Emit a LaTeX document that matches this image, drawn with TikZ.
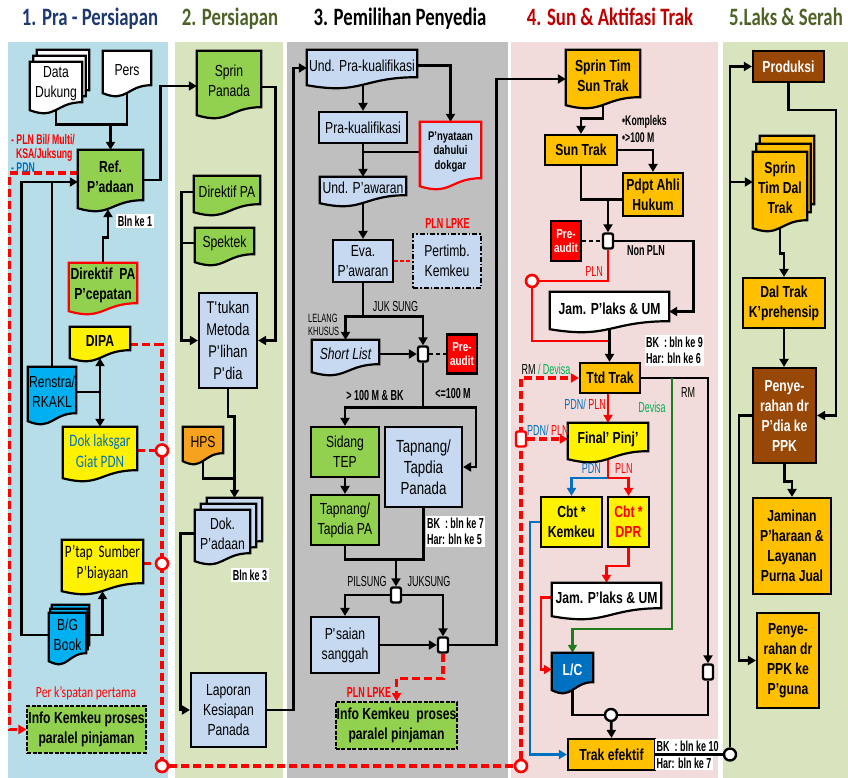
\documentclass[tikz,border=0pt]{standalone}
\usepackage{fontspec}
\setmainfont{Liberation Sans}[FakeStretch=0.76]
\newfontfamily\cnd{Liberation Sans}[FakeStretch=0.62]
\newfontfamily\ttl{Carlito}[FakeStretch=0.75]
\usetikzlibrary{arrows.meta,positioning,calc}

\definecolor{pnlblue}{HTML}{B7DEE8}
\definecolor{pnlgreen}{HTML}{D7E4BD}
\definecolor{pnlgray}{HTML}{BFBFBF}
\definecolor{pnlpink}{HTML}{F2DCDB}
\definecolor{lgreen}{HTML}{92D050}
\definecolor{lblue}{HTML}{C6D9F1}
\definecolor{cyanb}{HTML}{00B0F0}
\definecolor{orng}{HTML}{FFC000}
\definecolor{hpsorng}{HTML}{F7A21E}
\definecolor{brwn}{HTML}{974706}
\definecolor{dblue}{HTML}{0070C0}
\definecolor{dgreen}{HTML}{1E7B1E}
\definecolor{lgtext}{HTML}{00B050}
\definecolor{navy}{HTML}{1F3A70}
\definecolor{olive}{HTML}{4F6228}
\definecolor{dred}{HTML}{C00000}

\pgfdeclarelayer{panel}
\pgfdeclarelayer{wires}
\pgfdeclarelayer{background}
\pgfsetlayers{panel,wires,background,main}

\newcommand{\fmain}{\fontsize{16}{20}\selectfont}
\newcommand{\fsmall}{\cnd\fontsize{14.5}{16.5}\selectfont}

\tikzset{
  sz/.style 2 args={minimum width=#1pt,minimum height=#2pt},
  base/.style={align=center,inner sep=1pt,font=\fmain},
  bold/.style={font=\fmain\bfseries},
  doc/.style={base},
  proc/.style={base,draw,line width=2.2pt,fill=lblue},
  audit/.style={proc,fill=red,text=white,font=\fontsize{13}{14.5}\selectfont\bfseries},
  infobox/.style={base,bold,draw,line width=1.8pt,dash pattern=on 4pt off 1.5pt,fill=lgreen},
  jn/.style={draw,line width=2.4pt,fill=white,rounded corners=2pt,minimum width=10pt,minimum height=15pt,inner sep=0pt},
  hub/.style={circle,draw,line width=2.4pt,fill=white,minimum size=12pt,inner sep=0pt},
  rhub/.style={hub,draw=red,line width=2.6pt,minimum size=12pt},
  tag/.style={fill=white,inner sep=1.5pt,align=left,font=\fsmall\bfseries},
  note/.style={inner sep=0pt,align=left,font=\fsmall},
  bnote/.style={note,font=\fsmall\bfseries},
  ttlnode/.style={anchor=base,font=\ttl\bfseries\fontsize{25}{28}\selectfont},
  wire/.style={line width=2.8pt},
  arr/.style={wire,->},
  rdash/.style={red,line width=3.4pt,dash pattern=on 8pt off 4pt},
  rline/.style={red,line width=2.4pt},
  bline/.style={dblue,line width=2.4pt},
  gline/.style={dgreen,line width=2.4pt},
  kdash/.style={line width=2.4pt,dash pattern=on 4pt off 3pt}
}

% wavy document outline round a node, shifted by (#2,#3)
\newcommand{\wavepath}[3]{($(#1.north west)+(#2,#3)$) -- ($(#1.north east)+(#2,#3)$) -- ($(#1.south east)+(#2,#3-4)$)
  .. controls ($(#1.south)+(#2,#3-4)$) and ($(#1.south)+(#2,#3+14)$) .. ($(#1.south west)+(#2,#3+4)$) -- cycle}
\newcommand{\docshape}[3][black]{%
  \begin{pgfonlayer}{background}
    \draw[line width=2.2pt,draw=#1,fill=#3] \wavepath{#2}{0}{0};
  \end{pgfonlayer}}
\newcommand{\stackshape}[4]{%
  \begin{pgfonlayer}{background}
    \draw[line width=2.2pt,fill=#2] \wavepath{#1}{2*#3}{2*#4};
    \draw[line width=2.2pt,fill=#2] \wavepath{#1}{#3}{#4};
    \draw[line width=2.2pt,fill=#2] \wavepath{#1}{0}{0};
  \end{pgfonlayer}}

\begin{document}
\begin{tikzpicture}[x=1pt,y=-1pt,>={Triangle[length=8pt,width=9pt]}]
\useasboundingbox (0,0) rectangle (848,778);

% panels and titles
\begin{pgfonlayer}{panel}
  \fill[pnlblue] (8,42) rectangle (168,778);
  \fill[pnlgreen] (175,42) rectangle (283,778);
  \fill[pnlgray] (287,42) rectangle (508,778);
  \fill[pnlpink] (511,42) rectangle (718,778);
  \fill[pnlgreen] (723,42) rectangle (848,778);
\end{pgfonlayer}
\node[ttlnode,text=navy] (t1) at (90,26) {1. Pra - Persiapan};
\node[ttlnode,text=olive] (t2) at (230,26) {2. Persiapan};
\node[ttlnode] (t3) at (400,26) {3. Pemilihan Penyedia};
\node[ttlnode,text=dred] (t4) at (610,26) {4. Sun \& Aktifasi Trak};
\node[ttlnode,text=olive] (t5) at (786,26) {5.Laks \& Serah};

% 1. Pra - Persiapan
\node[doc,sz={52}{44}] (dat) at (56,84) {Data\\Dukung};
\node[doc,sz={48}{38}] (pers) at (127,70) {Pers};
\node[doc,bold,sz={65}{54}] (ref) at (110.5,177) {Ref.\\P’adaan};
\node[doc,bold,sz={68}{44}] (dpa) at (103,285) {Direktif\ \ PA\\P’cepatan};
\node[doc,bold,sz={60}{27}] (dipa) at (100,340.5) {DIPA};
\node[doc,sz={48}{50}] (ren) at (52,392) {Renstra/\\RKAKL};
\node[doc,sz={74}{47},font=\ttl\fontsize{17.5}{21}\selectfont,text=dblue] (dok) at (100,450.5) {Dok laksgar\\Giat PDN};
\node[doc,sz={81}{47},font=\ttl\fontsize{17.5}{21}\selectfont] (ptap) at (102.5,563.5) {P’tap\ \ Sumber\\P’biayaan};
\node[doc,sz={37}{44}] (bg) at (67.5,635) {B/G\\Book};
\node[infobox,sz={115}{47}] (info1) at (86.5,729.5) {Info Kemkeu proses\\paralel pinjaman};
\node[rhub] (rc1) at (162,450.5) {};
\node[rhub] (rc2) at (162,563.5) {};
\node[rhub] (rc3) at (162,766) {};
\node[bnote,font=\cnd\bfseries\fontsize{14}{14}\selectfont,anchor=north west] (cat) at (11,134)
  {\textcolor{red}{- PLN Bil/ Multi/}\\\textcolor{red}{\ \ KSA/Juksung}\\\textcolor{dblue}{- PDN}};
\node[tag] (bln1) at (135,221) {Bln ke 1};
\node[note,font=\ttl\fontsize{15.5}{18}\selectfont,text=red] (kesp) at (86,693) {Per k’spatan pertama};
\stackshape{dat}{white}{3.5}{-6}
\docshape{pers}{white}
\docshape{ref}{lgreen}
\docshape[red]{dpa}{lgreen}
\docshape{dipa}{yellow}
\docshape{ren}{cyanb}
\docshape{dok}{yellow}
\docshape{ptap}{yellow}
\stackshape{bg}{cyanb}{1.5}{-4}

% 2. Persiapan
\node[doc,sz={64}{60}] (sprin) at (229,81) {Sprin\\Panada};
\node[doc,sz={66}{32}] (dirpa) at (227,192) {Direktif PA};
\node[doc,sz={59}{30}] (spek) at (224.5,243) {Spektek};
\node[proc,sz={58}{95},font=\fontsize{17}{22}\selectfont] (ttk) at (228,340.5) {T\textquotesingle tukan\\Metoda\\P\textquotesingle lihan\\P\textquotesingle dia};
\node[doc,sz={40}{30}] (hps) at (203,442) {HPS};
\node[doc,sz={55}{47}] (dokp) at (222.5,533.5) {Dok.\\P’adaan};
\node[tag] (bln3) at (250,575) {Bln ke 3};
\node[proc,sz={75}{74}] (lap) at (228.5,710) {Laporan\\Kesiapan\\Panada};
\docshape{sprin}{lgreen}
\docshape{dirpa}{lgreen}
\docshape{spek}{lgreen}
\docshape{hps}{hpsorng}
\stackshape{dokp}{lblue}{6}{-6}

% 3. Pemilihan Penyedia
\node[doc,sz={110}{31}] (upk) at (362,65.5) {Und. Pra-kualifikasi};
\node[proc,sz={88}{31}] (pk) at (363,127.5) {Pra-kualifikasi};
\node[doc,sz={61}{60},font=\fontsize{12.5}{14.5}\selectfont\bfseries] (pny) at (450.5,152) {P’nyataan\\dahului\\dokgar};
\node[doc,sz={86}{22}] (upw) at (363,188) {Und. P’awaran};
\node[proc,sz={60}{42}] (eva) at (363,261) {Eva.\\P’awaran};
\node[bnote,text=red] (lpke1) at (447.5,224) {PLN LPKE};
\node[proc,sz={68}{54},dash pattern=on 5pt off 2pt on 1.5pt off 2pt] (ptb) at (447,261) {Pertimb.\\Kemkeu};
\node[note] (juk1) at (395.5,307) {JUK SUNG};
\node[note,font=\cnd\fontsize{12}{13}\selectfont,anchor=west] (lelang) at (308,324.5) {LELANG\\KHUSUS};
\node[doc,sz={67}{28},font=\fmain\itshape] (sl) at (345.5,354) {Short List};
\node[jn] (j1) at (423,354) {};
\node[audit,sz={30}{39}] (pa1) at (462,354) {Pre-\\audit};
\node[bnote] (gt) at (375,396) {> 100 M \& BK};
\node[bnote] (le) at (453,394) {<=100 M};
\node[proc,fill=lgreen,sz={68}{50}] (tep) at (345,452) {Sidang\\TEP};
\node[proc,sz={77}{80},font=\fontsize{17.5}{21}\selectfont] (tpp) at (423.5,467) {Tapnang/\\Tapdia\\Panada};
\node[proc,fill=lgreen,sz={68}{50}] (tpa) at (345,520) {Tapnang/\\Tapdia PA};
\node[tag] (bk7) at (455.5,531.5) {BK\ \ : bln ke 7\\Har: bln ke 5};
\node[note] (pil) at (367,582) {PILSUNG};
\node[note] (juk2) at (429,582) {JUKSUNG};
\node[jn] (j2) at (396,595) {};
\node[proc,sz={68}{56}] (ps) at (345,645) {P\textquotesingle saian\\sanggah};
\node[jn] (j3) at (443,645) {};
\node[bnote,text=red] (lpke2) at (369,693) {PLN LPKE};
\node[infobox,sz={117}{47}] (info2) at (396.5,725.5) {Info Kemkeu\ \ proses\\paralel pinjaman};
\docshape{upk}{lblue}
\docshape[red]{pny}{lblue}
\docshape{upw}{lblue}
\docshape{sl}{lblue}

% 4. Sun & Aktifasi Trak
\node[doc,bold,sz={74}{51}] (stst) at (603,75.5) {Sprin Tim\\Sun Trak};
\node[proc,bold,fill=orng,sz={72}{30}] (st) at (581,150) {Sun Trak};
\node[bnote,font=\cnd\bfseries\fontsize{14}{17.5}\selectfont,anchor=north west] (komp) at (622,115) {•Kompleks\\•>100 M};
\node[proc,bold,fill=orng,sz={60}{43}] (pah) at (653,194.5) {Pdpt Ahli\\Hukum};
\node[jn] (j4) at (608,241) {};
\node[audit,sz={30}{40}] (pa2) at (566,241) {Pre-\\audit};
\node[bnote] (npln) at (646,251) {Non PLN};
\node[note,text=red] (pln1) at (594,272) {PLN};
\node[rhub] (rc5) at (532,281) {};
\node[doc,bold,sz={119}{33}] (jam1) at (609.5,308.5) {Jam. P’laks \& UM};
\node[tag] (bk9) at (674.5,350.5) {BK\ \ : bln ke 9\\Har: bln ke 6};
\node[note] (rmdv) at (546,369) {RM \textcolor{lgtext}{/ Devisa}};
\node[proc,bold,fill=orng,sz={60}{30}] (ttd) at (610,378) {Ttd Trak};
\node[note] (rm) at (688,393) {RM};
\node[note,text=lgtext] (dvs) at (652,407) {Devisa};
\node[note,anchor=east] (pp1) at (606,404) {\textcolor{dblue}{PDN/} \textcolor{red}{PLN}};
\node[note,anchor=west] (pp2) at (527,430) {\textcolor{dblue}{PDN/} \textcolor{red}{PLN}};
\node[jn,draw=red] (j5) at (521,439) {};
\node[doc,bold,sz={80}{32}] (fin) at (608,439) {Final’ Pinj’};
\node[note,anchor=east,text=dblue] (pdn) at (601,469) {PDN};
\node[note,anchor=west,text=red] (pln2) at (615,469) {PLN};
\node[proc,bold,fill=yellow,sz={61}{50}] (cbk) at (571.5,522) {Cbt *\\Kemkeu};
\node[proc,bold,fill=yellow,text=red,sz={41}{50}] (cbd) at (628.5,522) {Cbt *\\DPR};
\node[doc,bold,sz={109}{29}] (jam2) at (606.5,597.5) {Jam. P’laks \& UM};
\node[doc,bold,text=white,sz={41}{33}] (lc) at (572.5,669.5) {L/C};
\node[jn] (j6) at (708,672) {};
\node[hub] (hb1) at (611,715) {};
\node[proc,bold,fill=orng,sz={87}{31}] (te) at (611.5,754.5) {Trak efektif};
\node[hub] (hb2) at (730,754.5) {};
\node[tag,anchor=south west] (bk10) at (655,753) {BK\ \ : bln ke 10};
\node[tag,anchor=north west] (har7) at (655,756) {Har: bln ke 7};
\node[rhub] (rc4) at (521,766) {};
\docshape{stst}{orng}
\docshape{jam1}{white}
\docshape{fin}{yellow}
\docshape{jam2}{white}
\docshape{lc}{dblue}

% 5. Laks & Serah
\node[proc,bold,fill=brwn,text=white,sz={71}{31}] (prod) at (788.5,66.5) {Produksi};
\node[doc,bold,sz={54}{72}] (sptd) at (780,188) {Sprin\\Tim Dal\\Trak};
\node[proc,bold,fill=orng,sz={82}{50}] (dtk) at (784,303) {Dal Trak\\K’prehensip};
\node[proc,bold,fill=brwn,text=white,sz={63}{95}] (pyp) at (784.5,415.5) {Penye-\\rahan dr\\P’dia ke\\PPK};
\node[proc,bold,fill=orng,sz={78}{96}] (jam) at (792,546) {Jaminan\\P’haraan \&\\Layanan\\Purna Jual};
\node[proc,bold,fill=orng,sz={62}{95}] (pyg) at (788,660.5) {Penye-\\rahan dr\\PPK ke\\P’guna};
\stackshape{sptd}{orng}{3.5}{-8}

% connectors
\begin{pgfonlayer}{wires}
  % 1
  \coordinate (m1) at ($(ref.north)+(0,-25)$);
  \draw[wire] (dat.south) |- (m1);
  \draw[wire] (pers.south) |- (m1);
  \draw[arr] (m1) -- (ref.north);
  \coordinate (refin) at ([yshift=-5pt]ref.west);
  \draw[arr] (bg.west) -| ($(refin)+(-56,0)$) -- (refin);
  \draw[wire] (ren.north) -- (ren.north |- refin);
  \draw[arr] (dpa.north) -- ++(0,-25) -| ($(ref.south)+(-2.5,5)$);
  \draw[wire] (ren.east) -- (ren.east -| dipa.south);
  \draw[wire,<->] ($(dipa.south)+(0,4)$) -- (dok.north);
  \draw[arr] (bg.east) -| ($(ptap.south)+(0,4)$);
  \draw[arr] ([yshift=-3pt]ref.east) -- ++(17,0) |- ([yshift=-5pt]sprin.west);
  \draw[rdash,->] ([yshift=4pt]ref.west) -| ($(info1.west)+(-17,0)$) -- (info1.west);
  \draw[rdash] ([yshift=-4pt]dipa.east) -| (rc3);
  \draw[rdash] (dok.east) -- (rc1);
  \draw[rdash] (ptap.east) -- (rc2);
  \draw[rdash] (rc3) -- (rc4);
  \draw[rdash,->] (rc4) |- (ttd.west);
  \draw[rdash,->] (j5) -- (fin.west);
  % 2
  \draw[arr] ([yshift=-6pt]sprin.east) -- ++(14,0) |- (ttk.east);
  \coordinate (c2l) at ($(dirpa.west)+(-12,0)$);
  \draw[arr] (dirpa.west) -- (c2l) |- (ttk.west);
  \draw[wire] (spek.west) -- (spek.west -| c2l);
  \draw[arr] (ttk.south) -- ++(0,27) -| ($(dokp.north)+(12,-12)$);
  \draw[wire] (hps.south) |- ($(dokp.north)+(12,-31)$);
  \draw[arr] (dokp.west) -- ++(-14,0) |- (lap.west);
  \draw[arr] (lap.east) -- ++(26,0) |- ([yshift=-2.5pt]upk.west);
  % 3
  \draw[arr] (upk.south -| pk.north) -- (pk.north);
  \draw[arr] (upk.east) -| (pny.north);
  \draw[arr] (pk.south) -- (pk.south |- upw.north);
  \draw[wire] (pny.west) -- (pny.west -| pk.south);
  \draw[arr] (upw.south -| eva.north) -- (eva.north);
  \draw[red,line width=1.8pt,dash pattern=on 4pt off 2pt] (eva.east) -- (ptb.west);
  \coordinate (sp1) at ($(eva.south)+(0,33)$);
  \draw[arr] (eva.south) -- (sp1) -| (sl.north);
  \draw[arr] (sp1) -| (j1.north);
  \draw[arr] (sl.east) -- (j1.west);
  \draw[kdash] (j1.east) -- (pa1.west);
  \coordinate (sp2) at ($(j1.south)+(0,45)$);
  \draw[arr] (j1.south) -- (sp2) -| (tep.north);
  \draw[arr] (sp2) -- ++(53,0) |- (tpp.east);
  \draw[arr] (tep.south) -- (tpa.north);
  \coordinate (m3) at ($(tpa.south)+(0,13)$);
  \draw[wire] (tpa.south) -- (m3) -| (tpp.south);
  \draw[arr] (m3 -| j2.north) -- (j2.north);
  \draw[arr] (j2.west) -| (ps.north);
  \draw[arr] (j2.east) -| (j3.north);
  \draw[arr] (ps.east) -- (j3.west);
  \draw[arr] (j3.east) -- ++(47,0) |- ([yshift=-3.5pt]stst.west);
  \draw[rdash,->] (j3.south) -- ++(0,25) -| (info2.north);
  % 4
  \draw[arr] (stst.south) -- ++(0,17) -| (st.north);
  \draw[arr] (st.east) -| (pah.north);
  \path ($(pah.west)+(0,5)$) coordinate (pw);
  \coordinate (m4) at (pw -| j4.north);
  \draw[wire] (st.south) |- (m4);
  \draw[wire] (pw) -- (m4);
  \draw[arr] (m4) -- (j4.north);
  \draw[kdash] (pa2.east) -- (j4.west);
  \draw[arr] (j4.east) -- ++(79,0) |- ([yshift=-3pt]jam1.east);
  \coordinate (m5) at ($(ttd.north)+(0,-21)$);
  \draw[rline] (j4.south) |- (rc5);
  \draw[rline] (rc5) |- (m5);
  \draw[arr] (jam1.south) -- (jam1.south |- ttd.north);
  \draw[arr] (ttd.east) -| (j6.north);
  \coordinate (g0) at ($(ttd.east)+(31,0)$);
  \draw[gline,->] (g0) -- ++(0,251) -| (lc.north);
  \draw[rline,->] (ttd.south -| fin.north) -- (fin.north);
  \coordinate (sp4) at ($(fin.south)+(0,23)$);
  \draw[rline,->] (fin.south) -- (sp4) -| (cbd.north);
  \draw[bline,->] (sp4) -| (cbk.north);
  \draw[rline,->] (cbd.south) -- ++(0,18) -| (jam2.north);
  \draw[rline,->] (jam2.west) -- ++(-11,0) |- (lc.west);
  \draw[bline,->] (cbk.west) -- ++(-10,0) |- (te.west);
  \draw[wire] (lc.south) |- (hb1);
  \draw[wire] (hb1) -| (j6.south);
  \draw[arr] (hb1) -- (te.north);
  \draw[wire] (te.east) -- (hb2);
  % 5
  \draw[arr] (hb2) |- (prod.west);
  \coordinate (sdin) at ([yshift=6pt]sptd.west);
  \draw[arr] (hb2 |- sdin) -- (sdin);
  \draw[arr] (prod.south) -- ++(0,27) -- ++(47.5,0) |- (pyp.east);
  \draw[arr] (sptd.south) -- ++(0,29) -| (dtk.north);
  \draw[arr] (dtk.south) -- (dtk.south |- pyp.north);
  \draw[arr] (pyp.west) -- ++(-13,0) |- (pyg.west);
  \draw[arr] (pyp.south) -- ++(0,17) -| (jam.north);
\end{pgfonlayer}
\end{tikzpicture}
\end{document}
